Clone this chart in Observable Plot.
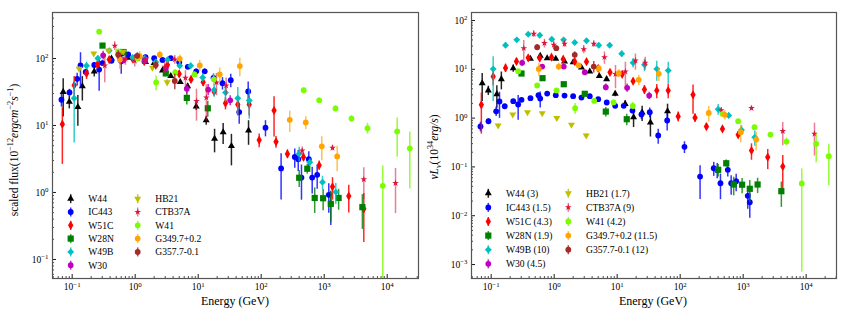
<!DOCTYPE html>
<html><head><meta charset="utf-8">
<script src="https://cdn.jsdelivr.net/npm/d3@7"></script>
<script src="https://cdn.jsdelivr.net/npm/@observablehq/plot@0.6"></script>
<style>
body{margin:0;background:#fff;}
#wrap{position:relative;width:847px;height:318px;overflow:hidden;}
#left,#right{position:absolute;top:0;}
#left{left:0;} #right{left:423px;}
</style></head><body>
<div id="wrap"><div id="left"></div><div id="right"></div></div>
<script>
// ---------- data (nuL in 1e34 erg/s, energy in GeV) ----------
const sources = ["W44","IC443","W51C","W28N","W49B","W30","HB21","CTB37A","W41","G349.7+0.2","G357.7-0.1"];
const distancesKpc = ["3","1.5","4.3","1.9","10","4.5","1.7","9","4.2","11.5","12"];
const fluxScale = [6.1, 36, 5.6, 19, 2.5, 8.2, 100, 2.9, 27.5, 9.5, 4.05];

const energy_W44 = [0.072,0.09,0.123,0.145,0.224,0.42,0.6,0.774,1.06,1.46,2.0,2.71,3.67,5.2,6.8,9.3,13.4,18.2,24.9,33.7,63];
const nuL_W44    = [5.2,3.7,3.1,6.3,10.5,16.4,19.0,16.9,16.4,14.5,14.0,10.9,9.0,7.3,6.3,3.15,1.96,1.04,1.3,0.81,1.38];
const err_W44    = [3,0.8,1.5,2.5,1.8,1,1,0.8,0.8,0.8,0.8,0.6,0.6,0.5,0.6,0.4,0.3,0.4,0.45,0.4,0.55];

const energy_IC443 = [0.0676,0.0906,0.12,0.1355,0.164,0.224,0.268,0.303,0.42,0.563,0.6,0.774,1.06,1.46,2.0,2.71,3.67,5.0,6.83,9.3,12.7,17.5,24.3,32.9,44.8,62.2,117,207,341,387,436,570,645,774,1183,1273];
const nuL_IC443    = [0.673,0.863,1.38,2.19,1.75,2.22,1.90,2.37,2.56,2.95,2.52,3.19,2.95,2.9,2.81,2.64,2.81,2.44,2.09,1.79,1.79,1.43,1.19,1.32,0.44,0.893,0.258,0.0635,0.094,0.0873,0.0463,0.0873,0.0463,0.051,0.0256,0.0189];
const err_IC443    = [0.15,0.1,0.3,1.2,0.15,0.2,1.0,0.2,0.2,0.25,0.9,0.2,0.2,0.2,0.15,0.15,0.15,0.15,0.15,0.15,0.15,0.2,0.25,0.3,0.15,0.35,0.07,0.042,0.03,0.03,0.025,0.025,0.02,0.02,0.012,0.01];

const energy_W51C = [0.0698,0.1076,0.169,0.252,0.387,0.59,0.906,1.39,2.12,3.26,5.0,7.7,12,17.9,27.1,42.5,64.6,93,160,172,261,469,833,1355,2455,4253];
const nuL_W51C    = [1.87,7.1,10.7,14.5,17.2,16.9,17.7,16.1,14.3,14.3,10.5,8.7,7.9,5.7,3.85,3.68,3.68,1.08,3.0,1.02,0.673,0.60,0.455,0.217,0.158,0.102];
const err_W51C    = [1.4,2.5,2,2,1.5,1.2,1.2,1.2,1.2,1.2,1.2,1,1,0.7,0.8,1.2,1.2,0.25,1.8,0.2,0.1,0.08,0.07,0.08,0.07,0.07];

const energy_W28N = [0.303,0.653,1.42,3.06,6.6,14.2,401,539,707,962,1273,1695,4036];
const nuL_W28N    = [8.2,6.58,4.95,3.15,1.36,0.95,0.0873,0.119,0.0436,0.0432,0.0356,0.0436,0.0318];
const err_W28N    = [0.6,0.5,0.4,0.3,0.3,0.25,0.025,0.02,0.018,0.015,0.017,0.015,0.017];

const energy_W49B = [0.1076,0.169,0.255,0.387,0.59,0.916,1.41,2.12,3.26,5.1,7.6,11.8,17.9,27.1,42.5,64.6,401,590,940,1528];
const nuL_W49B    = [10.2,31.2,40.2,52.4,50,41.4,40.2,35.4,38.4,31.2,31.2,20.8,13.6,12.4,10.2,9.45,1.52,1.13,0.57,0.405];
const err_W49B    = [8,4,4,4,3,3,3,3,3,3,3,3,3,3.5,4.5,4.5,0.38,0.15,0.13,0.14];

const energy_W30 = [0.31,0.645,1.42,3.06,6.6,14.4,32.2];
const nuL_W30    = [13.6,11.4,11.4,8.7,4.3,4.18,2.9];
const err_W30    = [2,1,1,0.8,0.7,0.8,0.5];

const energy_HB21 = [0.129,0.22,0.377,0.645,1.1,1.88,3.22];
const nuL_HB21    = [0.705,1.19,1.32,1.26,1.01,0.73,0.44];
const err_HB21    = [0.05,0.05,0.05,0.05,0.04,0.04,0.04];

const energy_CTB37A = [0.329,0.474,0.70,0.985,1.46,2.95,4.25,6.28,9.4,13.5,19.5,27.8,448,1355,4253,13552];
const nuL_CTB37A    = [27,53.4,34.3,31.8,33.3,25.8,33.3,17.7,8.0,9.0,15.1,13.6,1.45,1.6,0.54,0.477];
const err_CTB37A    = [12,8,7,6,5,5,5,5,4,5,5.5,4,0.2,0.15,0.27,0.31];

const energy_W41 = [0.268,0.537,1.09,2.15,4.32,8.75,17.7,473,833,1511,2712,4865,8511,14414,22856];
const nuL_W41    = [9.15,4.66,3.68,1.6,2.25,2.1,1.78,1.22,0.865,0.652,0.461,0.331,0.0457,0.297,0.166];
const err_W41    = [0.5,0.3,0.25,0.4,0.25,0.2,0.3,0.1,0.07,0.06,0.05,0.06,0.045,0.175,0.125];

const energy_G349 = [0.57,1.18,2.46,5.1,10.6,22,45.8,284,510,916,1607];
const nuL_G349    = [10.2,11.4,12.0,10.4,8.3,6.1,8.1,1.28,1.17,0.514,0.364];
const err_G349    = [3,2,1.5,1.5,1.5,1.5,2.5,0.45,0.25,0.2,0.15];

const energy_G357 = [0.537,1.08,2.12,4.25];
const nuL_G357    = [28.3,27.1,19.8,11.4];
const err_G357    = [4,3,3,3];

const xTickValues = [0.1,1,10,100,1000,10000];
const yTickLeft = [0.1,1,10,100];
const yTickRight = [0.001,0.01,0.1,1,10,100];

// ---------- styles ----------
const colors = ["#000000","#0000ff","#ff0000","#008000","#00bfbf","#bf00bf","#bfbf00","#dc143c","#7cfc00","#ffa500","#a52a2a"];
const symbols = ["triangle","circle","diamond","square","diamond2","circle","triangle","star","circle","circle","circle"];
const rotations = [0,0,0,0,0,0,180,0,0,0,0];
const radii = [2.6,2.9,2.8,3.5,3.1,2.9,2.6,2.1,2.9,2.9,2.9];
const errOpacity = [0.85,0.8,0.85,0.8,0.8,0.85,0.85,0.55,0.8,0.7,0.85];

const series = [
  [energy_W44,nuL_W44,err_W44],[energy_IC443,nuL_IC443,err_IC443],[energy_W51C,nuL_W51C,err_W51C],
  [energy_W28N,nuL_W28N,err_W28N],[energy_W49B,nuL_W49B,err_W49B],[energy_W30,nuL_W30,err_W30],
  [energy_HB21,nuL_HB21,err_HB21],[energy_CTB37A,nuL_CTB37A,err_CTB37A],[energy_W41,nuL_W41,err_W41],
  [energy_G349,nuL_G349,err_G349],[energy_G357,nuL_G357,err_G357]
];

const FONT = "'Liberation Serif', 'Times New Roman', serif";
const H = 318, MT = 12, MB = 40;

function minorTicks(lo, hi) {
  const out = [];
  for (let e = -3; e <= 5; e++) for (let m = 2; m <= 9; m++) {
    const v = m * Math.pow(10, e);
    if (v > lo && v < hi) out.push(v);
  }
  return out;
}

function makePanel({width, ml, mr, xDomain, yDomain, yTicks, scaled}) {
  const plotW = width - ml - mr, plotH = H - MT - MB;
  const marks = [];
  series.forEach(([E, L, err], i) => {
    const k = scaled ? fluxScale[i] : 1;
    const rows = E.map((e, j) => ({
      E: e, v: L[j] * k,
      lo: Math.max((L[j] - err[j]) * k, 1e-9),
      hi: (L[j] + err[j]) * k
    }));
    marks.push(Plot.ruleX(rows, {x: "E", y1: "lo", y2: "hi", stroke: colors[i], strokeWidth: 1.5, strokeOpacity: errOpacity[i], clip: true}));
    marks.push(Plot.dot(rows, {x: "E", y: "v", symbol: symbols[i], r: radii[i], fill: colors[i], stroke: "none", rotate: rotations[i], clip: true}));
  });
  marks.push(Plot.tickX(xTickValues, {insetTop: plotH - 4, stroke: "#000", strokeWidth: 0.9}));
  marks.push(Plot.tickX(minorTicks(xDomain[0], xDomain[1]), {insetTop: plotH - 2, stroke: "#000", strokeWidth: 0.7}));
  marks.push(Plot.tickY(yTicks, {insetRight: plotW - 4, stroke: "#000", strokeWidth: 0.9}));
  marks.push(Plot.tickY(minorTicks(yDomain[0], yDomain[1]), {insetRight: plotW - 2, stroke: "#000", strokeWidth: 0.7}));
  marks.push(Plot.frame({stroke: "#555", strokeWidth: 1.2}));
  marks.push(Plot.axisX(xTickValues, {tickSize: 0, tickPadding: 5, fontSize: 9.5, label: null, tickFormat: d => "10^" + Math.round(Math.log10(d))}));
  marks.push(Plot.axisY(yTicks, {tickSize: 0, tickPadding: 4, fontSize: 9.5, label: null, tickFormat: d => "10^" + Math.round(Math.log10(d))}));
  const svg = Plot.plot({
    width, height: H, marginLeft: ml, marginRight: mr, marginTop: MT, marginBottom: MB,
    style: {fontFamily: FONT, fontSize: "9.5px", color: "#000", background: "white"},
    x: {type: "log", domain: xDomain, label: null},
    y: {type: "log", domain: yDomain, label: null},
    marks
  });
  svg.querySelectorAll('g[aria-label$="tick label"] text').forEach(t => {
    const m = t.textContent.match(/^10\^(-?\d+)$/);
    if (!m) return;
    t.textContent = "10";
    const ts = document.createElementNS("http://www.w3.org/2000/svg", "tspan");
    ts.setAttribute("dy", "-0.45em");
    ts.setAttribute("font-size", "0.72em");
    ts.textContent = m[1].replace("-", "\u2212");
    t.appendChild(ts);
  });
  return svg;
}

const d3sym = {triangle: d3.symbolTriangle, circle: d3.symbolCircle, diamond: d3.symbolDiamond, square: d3.symbolSquare, diamond2: d3.symbolDiamond2, star: d3.symbolStar};

function addLegend(svg, labels, {col1, col2, textOff, y0, dy}) {
  const g = d3.select(svg).append("g")
    .attr("style", `font-family:${FONT};font-size:9.6px;font-weight:normal;text-anchor:start`);
  labels.forEach((lab, i) => {
    const col = i < 6 ? 0 : 1, row = i < 6 ? i : i - 6;
    const x = col ? col2 : col1, y = y0 + row * dy;
    g.append("line").attr("x1", x).attr("x2", x).attr("y1", y - 4.5).attr("y2", y + 4.5)
      .attr("stroke", colors[i]).attr("stroke-width", 1.5).attr("stroke-opacity", errOpacity[i]);
    g.append("path").attr("d", d3.symbol(d3sym[symbols[i]], Math.PI * radii[i] * radii[i])())
      .attr("transform", `translate(${x},${y}) rotate(${rotations[i]})`).attr("fill", colors[i]);
    g.append("text").attr("x", x + textOff).attr("y", y).attr("dy", "0.35em")
      .attr("text-anchor", "start").text(lab);
  });
}

function addText(svg, x, y, rotate, parts, size) {
  const t = d3.select(svg).append("text")
    .attr("style", `font-family:${FONT};font-size:${size}px;font-weight:normal;text-anchor:middle`)
    .attr("transform", `translate(${x},${y}) rotate(${rotate})`);
  let shift = 0;
  parts.forEach(p => {
    const ts = t.append("tspan").text(p.t);
    const target = p.sup ? -0.42 : p.sub ? 0.25 : 0;
    if (target !== shift) { ts.attr("dy", ((target - shift) * size) + "px"); shift = target; }
    if (p.sup || p.sub) ts.attr("style", `font-size:${size * 0.72}px` + (p.i ? ";font-style:italic" : ""));
    else if (p.i) ts.attr("style", "font-style:italic");
  });
}

// ---------- left panel ----------
const left = makePanel({width: 423, ml: 52, mr: 5, xDomain: [0.0487, 31400], yDomain: [0.052, 486], yTicks: yTickLeft, scaled: true});
addLegend(left, sources, {col1: 70.7, col2: 137.7, textOff: 17.6, y0: 198.7, dy: 13.3});
addText(left, 235, 304.5, 0, [{t: "Energy (GeV)"}], 12);
addText(left, 17.5, 150, -90, [{t: "scaled flux(10"}, {t: "\u221212", sup: 1}, {t: "ergcm", i: 1}, {t: "\u22122", sup: 1}, {t: "s", i: 1}, {t: "\u22121", sup: 1}, {t: ")"}], 11.5);
document.getElementById("left").appendChild(left);

// ---------- right panel ----------
const right = makePanel({width: 424, ml: 48, mr: 11, xDomain: [0.0487, 30300], yDomain: [5.17e-4, 146], yTicks: yTickRight, scaled: false});
addLegend(right, sources.map((s, i) => `${s} (${distancesKpc[i]})`), {col1: 65.3, col2: 145.3, textOff: 17.7, y0: 193.3, dy: 14.1});
addText(right, 230, 304.5, 0, [{t: "Energy (GeV)"}], 12);
addText(right, 15, 147, -90, [{t: "\u03BDL", i: 1}, {t: "\u03BD", sub: 1, i: 1}, {t: "(10"}, {t: "34", sup: 1}, {t: "erg/s", i: 1}, {t: ")"}], 11.5);
document.getElementById("right").appendChild(right);
</script>
</body></html>
